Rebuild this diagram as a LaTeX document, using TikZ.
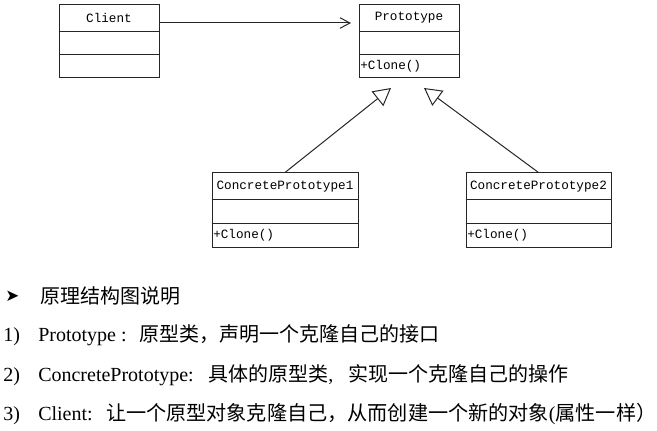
\documentclass[tikz,border=0pt]{standalone}
\usepackage{fontspec}
\setmainfont{Liberation Serif}
\newfontfamily\cjk{Noto Sans CJK SC}
\newfontfamily\boxfont{Liberation Mono}
\newfontfamily\symfont{DejaVu Sans}
\usetikzlibrary{arrows.meta}
\begin{document}
\begin{tikzpicture}[x=0.75pt,y=-0.75pt,
  umlbox/.style={draw=black!85, line width=0.75pt, inner sep=0pt},
  sep/.style={draw=black!85, line width=0.75pt},
  title/.style={font=\boxfont\fontsize{9.5}{11}\selectfont, inner sep=0pt},
  method/.style={font=\boxfont\fontsize{9.5}{11}\selectfont, inner sep=0pt, anchor=west},
  assoc/.style={draw=black!85, line width=0.75pt, -{Straight Barb[length=7.5pt,width=8pt,line width=0.75pt]}},
  inherit/.style={draw=black!85, line width=0.75pt, -{Triangle[open,length=13pt,width=14pt,line width=0.75pt]}},
  txt/.style={anchor=base west, inner sep=0pt, font=\fontsize{15}{18}\selectfont}]
\useasboundingbox (0,0) rectangle (657,431);
% class boxes
\node[umlbox, minimum width=75pt, minimum height=54.75pt] (client) at (109,41.5) {};
\node[umlbox, minimum width=75pt, minimum height=54.75pt] (proto) at (409,41.5) {};
\node[umlbox, minimum width=109.5pt, minimum height=55.5pt] (cp1) at (285,210) {};
\node[umlbox, minimum width=108.75pt, minimum height=55.5pt] (cp2) at (538.5,210) {};
% compartments
\foreach \b in {client,proto}{
  \draw[sep] (\b.west |- 0,32) -- (\b.east |- 0,32);
  \draw[sep] (\b.west |- 0,55) -- (\b.east |- 0,55);
}
\foreach \b in {cp1,cp2}{
  \draw[sep] (\b.west |- 0,200) -- (\b.east |- 0,200);
  \draw[sep] (\b.west |- 0,224) -- (\b.east |- 0,224);
}
% titles
\node[title] (tclient) at (109,18) {Client};
\node[title] (tproto) at (409,18) {Prototype};
\node[title] (tcp1) at (285,187) {ConcretePrototype1};
\node[title] (tcp2) at (538.5,187) {ConcretePrototype2};
% methods
\node[method] (mproto) at (360,66) {+Clone()};
\node[method] (mcp1) at (213,235.5) {+Clone()};
\node[method] (mcp2) at (467,235.5) {+Clone()};
% connectors
\coordinate (a1) at (351,23);
\coordinate (t1) at (391,88);
\coordinate (t2) at (424,88);
\draw[assoc] (client.east |- a1) -- (a1);
\draw[inherit] (cp1.north) -- (t1);
\draw[inherit] (cp2.north) -- (t2);
% explanation text
\node[anchor=base west, inner sep=0pt, font=\symfont\fontsize{12.5}{14}\selectfont] (bul) at (5,301) {➤};
\node[txt] (h) at (40,303) {{\cjk 原理结构图说明}};
\node[txt] (n1) at (3,341) {1)};
\node[txt] (l1) at (38,341) {Prototype :\hspace{10pt}{\cjk 原型类，声明一个克隆自己的接口}};
\node[txt] (n2) at (3,381) {2)};
\node[txt] (l2) at (38,381) {ConcretePrototype:\hspace{11pt}{\cjk 具体的原型类},\hspace{0.5em} {\cjk 实现一个克隆自己的操作}};
\node[txt] (n3) at (3,420) {3)};
\node[txt] (l3) at (38,420) {Client:\hspace{10pt}{\cjk\fontsize{15.1}{18}\selectfont 让一个原型对象克隆自己，从而创建一个新的对象}({\cjk\fontsize{15.1}{18}\selectfont 属性一样）}};
\end{tikzpicture}
\end{document}
